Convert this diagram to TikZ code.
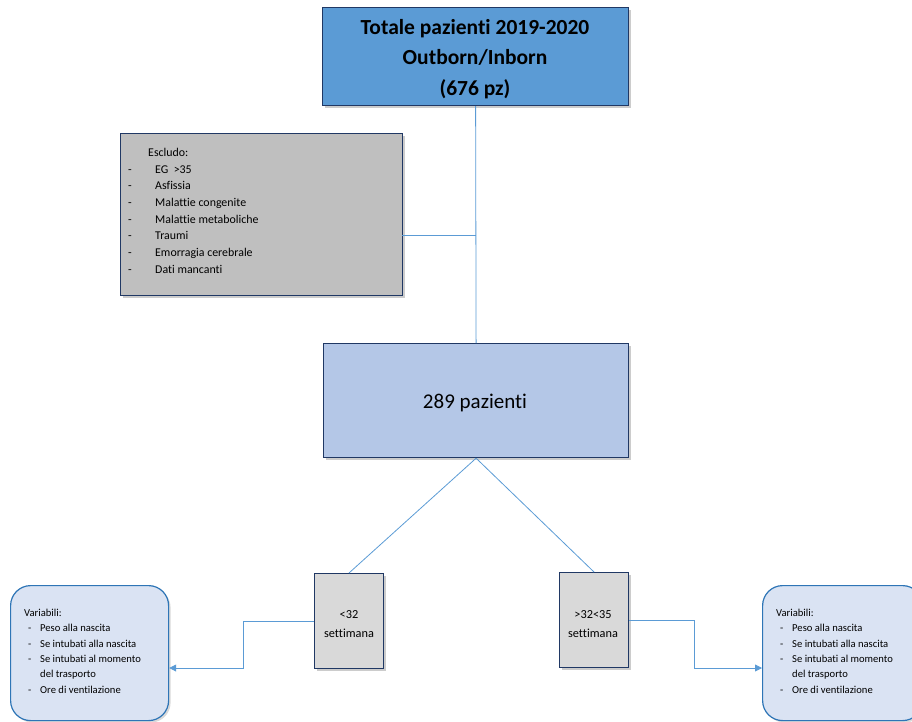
\documentclass[tikz,border=0pt]{standalone}
\usepackage{fontspec}
\setmainfont{Carlito}[Ligatures=NoCommon]
\usetikzlibrary{shadows,arrows.meta}
\definecolor{navy}{HTML}{203864}
\definecolor{topblue}{HTML}{5B9BD5}
\definecolor{midblue}{HTML}{B4C7E7}
\definecolor{lightblue}{HTML}{DAE3F3}
\definecolor{boxgray}{HTML}{BFBFBF}
\definecolor{lgray}{HTML}{D9D9D9}
\definecolor{linkblue}{HTML}{5B9BD5}
\definecolor{roundborder}{HTML}{2E75B6}
\newcommand{\itm}[1]{\hspace*{4pt}\makebox[12pt][l]{-}#1}
\begin{document}
\begin{tikzpicture}[x=1pt,y=-1pt,
  box/.style={draw=navy, line width=1.2pt, anchor=north west, inner sep=0pt,
     drop shadow={shadow xshift=2.5pt, shadow yshift=-2.5pt, opacity=0.4}},
  rbox/.style={draw=roundborder, line width=1.2pt, fill=lightblue, rounded corners=20pt,
     anchor=north west, inner sep=0pt,
     drop shadow={shadow xshift=2pt, shadow yshift=-2pt, opacity=0.3}},
  link/.style={draw=linkblue, line width=0.8pt},
  arr/.style={link, -{Triangle[length=7pt,width=7pt]}},
  txt/.style={inner sep=0pt, align=left, anchor=north west}
]
\useasboundingbox (0,0) rectangle (912,722);

% boxes
\node[box, fill=topblue, minimum width=306pt, minimum height=98pt] (top) at (322,7) {};
\node[align=center, font=\fontsize{21.5}{30.5}\selectfont\bfseries] (toptxt) at (475,59)
  {Totale pazienti 2019-2020\\Outborn/Inborn\\(676 pz)};

\node[box, fill=boxgray, minimum width=282pt, minimum height=162pt] (gray) at (120,133) {};
\node[txt, font=\fontsize{11.9}{16.7}\selectfont] (graytxt) at (128,148)
  {\hspace*{20pt}Escludo:\\
   \makebox[27pt][l]{-}EG\ \ >35\\
   \makebox[27pt][l]{-}Asfissia\\
   \makebox[27pt][l]{-}Malattie congenite\\
   \makebox[27pt][l]{-}Malattie metaboliche\\
   \makebox[27pt][l]{-}Traumi\\
   \makebox[27pt][l]{-}Emorragia cerebrale\\
   \makebox[27pt][l]{-}Dati mancanti};

\node[box, fill=midblue, minimum width=305pt, minimum height=114pt] (mid) at (323,343) {};
\node[font=\fontsize{21}{25}\selectfont] (midtxt) at (475,403) {289 pazienti};

\node[box, fill=lgray, line width=1pt, minimum width=69pt, minimum height=95pt] (lt) at (314,573) {};
\node[align=center, font=\fontsize{12.3}{18.5}\selectfont] (lttxt) at (349,624) {<32\\settimana};

\node[box, fill=lgray, line width=1pt, minimum width=69pt, minimum height=95pt] (rt) at (559,572) {};
\node[align=center, font=\fontsize{12.3}{18.5}\selectfont] (rttxt) at (593,624) {>32<35\\settimana};

\node[rbox, minimum width=158pt, minimum height=135pt] (lr) at (10,585) {};
\node[txt, font=\fontsize{10.6}{15.3}\selectfont] (lrtxt) at (24,609)
  {Variabili:\\
   \itm{Peso alla nascita}\\
   \itm{Se intubati alla nascita}\\
   \itm{Se intubati al momento}\\
   \hspace*{16pt}del trasporto\\
   \itm{Ore di ventilazione}};

\node[rbox, minimum width=160pt, minimum height=135pt] (rr) at (762,585) {};
\node[txt, font=\fontsize{10.6}{15.3}\selectfont] (rrtxt) at (776,609)
  {Variabili:\\
   \itm{Peso alla nascita}\\
   \itm{Se intubati alla nascita}\\
   \itm{Se intubati al momento}\\
   \hspace*{16pt}del trasporto\\
   \itm{Ore di ventilazione}};

% connectors
\draw[link] (top.south) -- (mid.north);
\coordinate (gx) at (402,235);
\draw[link] (gx) -- (gx -| top.south);
\draw[link] (mid.south) -- (lt.north);
\draw[link] (mid.south) -- (rt.north);
\coordinate (lbend) at (243,668);
\draw[arr] (lt.west) -| (lbend) -- (lbend -| lr.east);
\coordinate (rbend) at (694,668);
\draw[arr] (rt.east) -| (rbend) -- (rbend -| rr.west);
\end{tikzpicture}
\end{document}
